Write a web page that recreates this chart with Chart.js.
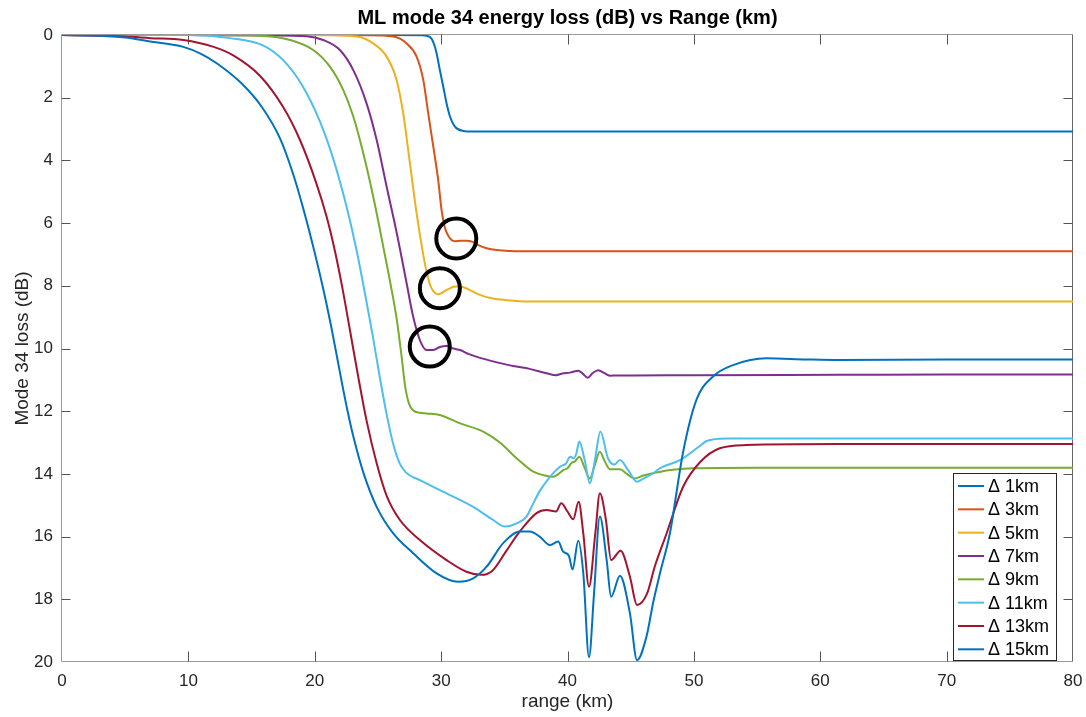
<!DOCTYPE html>
<html>
<head>
<meta charset="utf-8">
<title>ML mode 34 energy loss</title>
<script src="https://cdn.jsdelivr.net/npm/chart.js@4.4.0/dist/chart.umd.min.js"></script>
<style>
    html, body { margin: 0; padding: 0; background: #fff; }
    #wrap { width: 1086px; height: 717px; }
</style>
</head>
<body>
<div id="wrap"><canvas id="lossChart" width="1086" height="717"></canvas></div>
<script>
// Dados (range em km, perda em dB)
const seriesLabels = ['\u0394 1km', '\u0394 3km', '\u0394 5km', '\u0394 7km', '\u0394 9km', '\u0394 11km', '\u0394 13km', '\u0394 15km'];
const seriesColors = ['#0072BD', '#D95319', '#EDB120', '#7E2F8E', '#77AC30', '#4DBEEE', '#A2142F', '#0072BD'];

const range1 = [0, 10, 20, 26, 28.5, 29.1, 29.4, 29.64, 29.9, 30.17, 30.43, 30.7, 31.09, 31.75, 32.5, 40, 50, 60, 70, 80];
const loss1  = [0, 0, 0, 0, 0.01, 0.06, 0.25, 0.58, 1.12, 1.65, 2.18, 2.6, 2.92, 3.06, 3.08, 3.08, 3.08, 3.08, 3.08, 3.08];

const range3 = [0, 10, 20, 24, 26.2, 27.27, 28.06, 28.59, 28.98, 29.38, 29.77, 30.04, 30.3, 30.56, 30.8, 31.1, 31.5, 32.0, 32.5, 32.94, 33.6, 34.4, 35.5, 37, 40, 50, 60, 70, 80];
const loss3  = [0, 0, 0, 0.01, 0.05, 0.27, 0.69, 1.44, 2.5, 3.56, 4.63, 5.6, 6.15, 6.4, 6.53, 6.58, 6.56, 6.56, 6.6, 6.7, 6.8, 6.86, 6.89, 6.9, 6.9, 6.9, 6.9, 6.9, 6.9];

const range5 = [0, 10, 18, 21, 23.31, 24.63, 25.69, 26.48, 27.0, 27.53, 28.06, 28.58, 28.85, 29.11, 29.4, 29.7, 30.0, 30.3, 30.7, 31.1, 31.5, 32.2, 33.07, 34, 35.2, 37, 40, 50, 60, 70, 80];
const loss5  = [0, 0, 0, 0.01, 0.05, 0.27, 0.69, 1.44, 2.5, 4.09, 5.69, 7.0, 7.55, 7.95, 8.18, 8.27, 8.24, 8.16, 8.08, 8.02, 8.02, 8.12, 8.29, 8.4, 8.46, 8.5, 8.5, 8.5, 8.5, 8.5, 8.5];

const range7 = [0, 10, 15, 19.36, 20.67, 21.99, 23.05, 24.1, 24.9, 25.69, 26.48, 27.27, 27.79, 28.32, 28.85, 29.38, 29.9, 30.43, 30.96, 31.5, 32.2, 33.07, 34.5, 35.7, 37, 38.35, 39.1, 39.6, 40.2, 40.85, 41.2, 41.6, 42.0, 42.43, 42.9, 43.35, 44, 45.2, 50, 61.5, 70, 80];
const loss7  = [0, 0, 0.01, 0.04, 0.16, 0.48, 1.12, 2.18, 3.35, 4.84, 6.3, 7.92, 8.99, 9.73, 10.05, 10.05, 9.95, 9.92, 10.0, 10.05, 10.18, 10.3, 10.45, 10.56, 10.65, 10.79, 10.85, 10.8, 10.77, 10.71, 10.8, 10.93, 10.78, 10.69, 10.78, 10.87, 10.86, 10.86, 10.85, 10.84, 10.83, 10.83];

const range9 = [0, 10, 15.93, 18.04, 19.88, 21.2, 22.25, 23.05, 23.84, 24.63, 25.42, 26.0, 26.5, 26.9, 27.15, 27.45, 27.8, 28.3, 28.85, 29.9, 31.5, 33.33, 34.65, 35.97, 37.29, 38.2, 38.87, 39.3, 39.66, 40.0, 40.32, 40.6, 40.93, 41.35, 41.77, 42.17, 42.56, 42.95, 43.35, 44.15, 44.7, 45.3, 46.0, 46.78, 48, 49.9, 55, 61.5, 70, 80];
const loss9  = [0, 0, 0.03, 0.16, 0.48, 1.01, 1.75, 2.6, 3.77, 5.16, 6.75, 7.95, 9.1, 10.35, 11.2, 11.75, 11.98, 12.05, 12.07, 12.12, 12.39, 12.65, 13.0, 13.5, 13.93, 14.05, 14.09, 14.0, 13.88, 13.82, 13.65, 13.6, 13.45, 13.8, 14.15, 13.7, 13.29, 13.6, 13.85, 13.85, 14.0, 14.15, 14.05, 13.98, 13.88, 13.82, 13.8, 13.8, 13.8, 13.8];

const range11 = [0, 10, 13.3, 15.9, 17.5, 19.0, 20.4, 21.5, 22.5, 23.3, 24.0, 24.6, 25.16, 25.69, 26.21, 26.7, 27.2, 28.32, 30.43, 32.54, 34.12, 35.05, 35.97, 36.76, 37.29, 37.8, 38.6, 39.4, 39.9, 40.2, 40.5, 40.7, 40.93, 41.36, 41.77, 42.17, 42.6, 43.2, 43.7, 44.15, 44.8, 45.5, 46.0, 46.78, 47.3, 48.9, 50.5, 51.0, 52.6, 55, 61.5, 70, 80];
const loss11  = [0, 0, 0.1, 0.33, 0.8, 1.6, 2.75, 4.0, 5.45, 6.85, 8.3, 9.62, 10.95, 12.1, 13.05, 13.65, 13.95, 14.2, 14.62, 15.05, 15.47, 15.68, 15.58, 15.36, 14.94, 14.55, 14.1, 13.77, 13.66, 13.45, 13.5, 13.35, 12.97, 13.56, 14.3, 13.56, 12.65, 13.5, 13.7, 13.56, 13.88, 14.25, 14.15, 13.98, 13.82, 13.56, 13.1, 12.95, 12.87, 12.87, 12.87, 12.87, 12.87];

const range13 = [0, 5, 7, 9.6, 12.0, 13.55, 15.66, 17.5, 18.83, 20.1, 20.94, 21.6, 22.2, 22.8, 23.44, 24.1, 24.9, 25.69, 26.74, 28.32, 30.43, 32.0, 33.2, 34.1, 35.2, 36.2, 37.55, 38.35, 39.1, 39.5, 40.0, 40.45, 40.88, 41.25, 41.7, 42.2, 42.56, 43.04, 43.45, 44.2, 44.94, 45.5, 46.3, 46.9, 47.84, 49.15, 50.5, 52.05, 54.17, 61.5, 70, 80];
const loss13  = [0, 0.05, 0.1, 0.16, 0.38, 0.65, 1.3, 2.3, 3.35, 4.7, 5.8, 6.9, 8.1, 9.45, 10.9, 12.3, 13.66, 14.7, 15.47, 16.11, 16.75, 17.12, 17.22, 17.07, 16.43, 15.85, 15.25, 15.15, 15.2, 14.94, 15.2, 15.45, 14.89, 15.9, 17.6, 15.9, 14.62, 15.47, 16.75, 16.45, 17.28, 18.18, 17.81, 16.96, 15.9, 14.41, 13.62, 13.18, 13.08, 13.05, 13.05, 13.05];

const range15 = [0, 3, 5, 7, 8.3, 9.6, 11, 12.24, 14.2, 15.8, 17.25, 18.3, 19.1, 20.0, 20.7, 21.3, 21.8, 22.2, 22.6, 23.05, 23.84, 24.9, 26.21, 27.79, 29.64, 31.35, 32.54, 33.6, 34.91, 36.23, 37.0, 37.8, 38.6, 39.26, 39.66, 40.1, 40.4, 40.85, 41.25, 41.7, 42.1, 42.56, 43.1, 43.45, 44.15, 44.94, 45.5, 46.25, 46.78, 47.3, 48.1, 49.15, 50.2, 51.5, 53.1, 55.75, 58.9, 61.5, 70, 80];
const loss15  = [0, 0.02, 0.08, 0.21, 0.28, 0.38, 0.6, 0.9, 1.54, 2.29, 3.3, 4.45, 5.55, 6.95, 8.15, 9.3, 10.35, 11.2, 12.0, 12.8, 13.95, 15.05, 15.9, 16.53, 17.17, 17.44, 17.33, 16.96, 16.21, 15.84, 15.84, 16.0, 16.27, 16.16, 16.48, 16.6, 17.05, 16.13, 17.17, 19.85, 17.81, 15.36, 16.75, 17.92, 17.25, 18.45, 19.94, 19.19, 18.1, 17.2, 15.9, 13.3, 11.64, 10.9, 10.53, 10.31, 10.35, 10.37, 10.35, 10.35];

// Círculos pretos marcando os "joelhos" das curvas
const circleRange = [31.2, 29.9, 29.1];
const circleLoss  = [6.49, 8.08, 9.94];

const xTicks = [0, 10, 20, 30, 40, 50, 60, 70, 80];
const yTicks = [0, 2, 4, 6, 8, 10, 12, 14, 16, 18, 20];

const chartTitle = 'ML mode 34 energy loss (dB) vs Range (km)';
const xTitle = 'range (km)';
const yTitle = 'Mode 34 loss (dB)';

const FONT = '"Liberation Sans", Arial, Helvetica, sans-serif';
const ranges = [range1, range3, range5, range7, range9, range11, range13, range15];
const losses = [loss1, loss3, loss5, loss7, loss9, loss11, loss13, loss15];

function toPoints(xs, ys) {
    return xs.map((x, i) => ({ x: x, y: ys[i] }));
}

// Monta os datasets a partir dos arrays
const datasets = ranges.map((xs, i) => ({
    type: 'line',
    label: seriesLabels[i],
    data: toPoints(xs, losses[i]),
    borderColor: seriesColors[i],
    backgroundColor: seriesColors[i],
    borderWidth: 2,
    pointRadius: 0,
    fill: false,
    cubicInterpolationMode: 'monotone',
    order: 10 - i
}));

datasets.push({
    type: 'scatter',
    label: 'marks',
    data: toPoints(circleRange, circleLoss),
    pointStyle: 'circle',
    pointRadius: 20,
    pointBorderWidth: 4,
    pointBorderColor: '#000',
    pointBackgroundColor: 'rgba(0,0,0,0)',
    showLine: false,
    order: 0
});

// Moldura com ticks para dentro (estilo MATLAB)
const framePlugin = {
    id: 'frame',
    beforeDatasetsDraw(chart) {
        const { ctx, chartArea: a, scales } = chart;
        const L = Math.round(a.left) - 0.5, R = Math.round(a.right) - 0.5;
        const T = Math.round(a.top) - 0.5, B = Math.round(a.bottom) - 0.5;
        ctx.save();
        ctx.lineWidth = 1;
        ctx.strokeStyle = '#9a9a9a';
        ctx.beginPath();
        ctx.moveTo(L, T); ctx.lineTo(R, T);
        ctx.moveTo(L, T); ctx.lineTo(L, B); ctx.lineTo(R, B);
        ctx.stroke();
        ctx.strokeStyle = '#666';
        ctx.beginPath();
        ctx.moveTo(R, T); ctx.lineTo(R, B);
        ctx.stroke();

        ctx.strokeStyle = '#555';
        ctx.beginPath();
        xTicks.slice(1, -1).forEach(v => {
            const px = Math.round(scales.x.getPixelForValue(v)) + 0.5;
            ctx.moveTo(px, B); ctx.lineTo(px, B - 10);
            ctx.moveTo(px, T); ctx.lineTo(px, T + 10);
        });
        yTicks.slice(1, -1).forEach(v => {
            const py = Math.round(scales.y.getPixelForValue(v)) + 0.5;
            ctx.moveTo(L, py); ctx.lineTo(L + 9, py);
            ctx.moveTo(R, py); ctx.lineTo(R - 9, py);
        });
        ctx.stroke();
        ctx.restore();
    },
    afterDraw(chart) {
        const { ctx, chartArea: a } = chart;
        ctx.save();
        // Título
        ctx.fillStyle = '#000';
        ctx.font = 'bold 20px ' + FONT;
        ctx.textAlign = 'center';
        ctx.textBaseline = 'middle';
        ctx.fillText(chartTitle, (a.left + a.right) / 2, 18);

        // Legenda dentro da área do gráfico
        const w = 103, h = 187;
        const lx = a.right - 17 - w, ly = a.bottom - 2 - h;
        ctx.fillStyle = '#fff';
        ctx.fillRect(lx, ly, w, h);
        ctx.strokeStyle = '#262626';
        ctx.lineWidth = 1;
        ctx.strokeRect(Math.round(lx) + 0.5, Math.round(ly) + 0.5, w, h);
        ctx.font = '18px ' + FONT;
        ctx.textAlign = 'left';
        ctx.textBaseline = 'middle';
        seriesLabels.forEach((lab, i) => {
            const cy = ly + 13 + i * 23.33;
            ctx.strokeStyle = seriesColors[i];
            ctx.lineWidth = 2;
            ctx.beginPath();
            ctx.moveTo(lx + 5, cy); ctx.lineTo(lx + 31, cy);
            ctx.stroke();
            ctx.fillStyle = '#000';
            ctx.fillText(lab, lx + 35, cy + 1);
        });
        ctx.restore();
    }
};

const ctx = document.getElementById('lossChart').getContext('2d');
new Chart(ctx, {
    data: { datasets: datasets },
    options: {
        responsive: false,
        animation: false,
        devicePixelRatio: 1,
        layout: { autoPadding: false, padding: { left: 0, right: 13, top: 35, bottom: 0 } },
        plugins: {
            legend: { display: false },
            title: { display: false },
            tooltip: { enabled: false }
        },
        scales: {
            x: {
                type: 'linear',
                min: 0,
                max: 80,
                grid: { display: false, drawTicks: false },
                border: { display: false },
                ticks: {
                    stepSize: 10,
                    padding: 9,
                    color: '#262626',
                    font: { family: FONT, size: 17 },
                    maxRotation: 0
                },
                title: {
                    display: true,
                    text: xTitle,
                    color: '#262626',
                    font: { family: FONT, size: 19 },
                    padding: { top: 0, bottom: 4 }
                },
                afterFit(scale) {
                    scale.height = 55;
                    scale.paddingLeft = 0;
                    scale.paddingRight = 0;
                }
            },
            y: {
                type: 'linear',
                reverse: true,
                min: 0,
                max: 20,
                grid: { display: false, drawTicks: false },
                border: { display: false },
                ticks: {
                    stepSize: 2,
                    padding: 9,
                    color: '#262626',
                    font: { family: FONT, size: 17 }
                },
                title: {
                    display: true,
                    text: yTitle,
                    color: '#262626',
                    font: { family: FONT, size: 19 },
                    padding: { top: 11, bottom: 0 }
                },
                afterFit(scale) {
                    scale.width = 62;
                    scale.paddingTop = 0;
                    scale.paddingBottom = 0;
                }
            }
        }
    },
    plugins: [framePlugin]
});
</script>
</body>
</html>
